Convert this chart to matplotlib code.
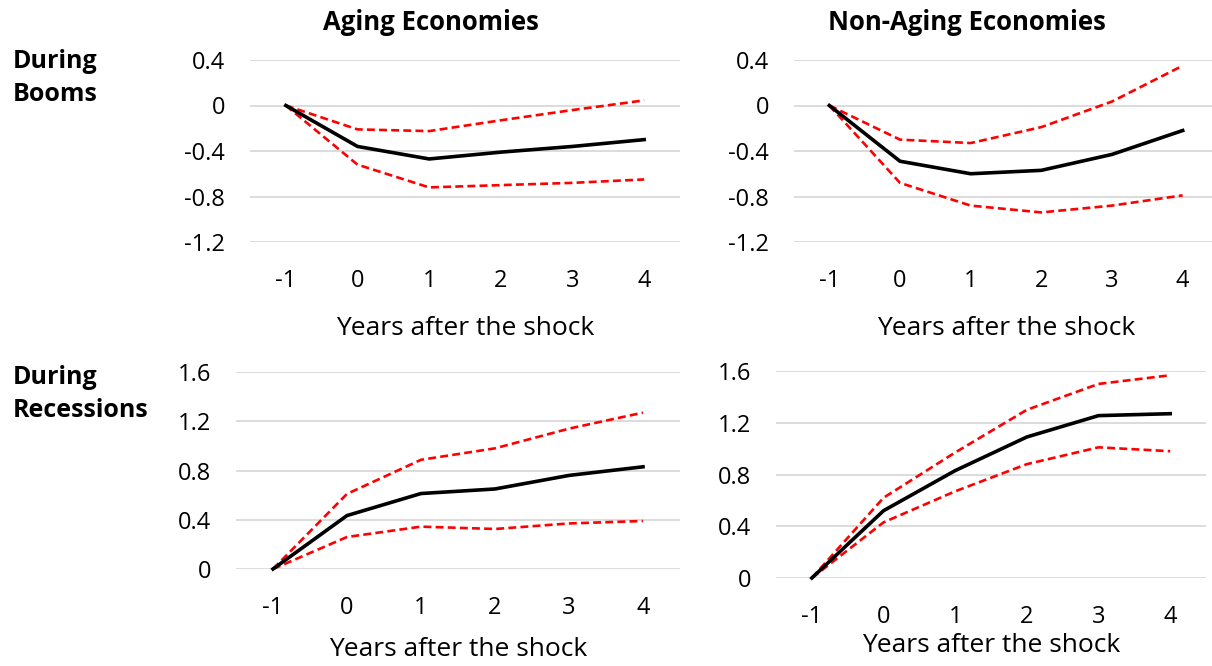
import matplotlib
matplotlib.use("Agg")
import matplotlib.pyplot as plt

plt.rcParams['font.family'] = ['Open Sans', 'DejaVu Sans']
plt.rcParams['axes.unicode_minus'] = False

years = [-1, 0, 1, 2, 3, 4]
year_labels = ['-1', '0', '1', '2', '3', '4']

# booms, aging economies
boom_aging = [0, -0.36, -0.47, -0.41, -0.36, -0.30]
boom_aging_hi = [0, -0.21, -0.225, -0.13, -0.04, 0.045]
boom_aging_lo = [0, -0.52, -0.72, -0.70, -0.68, -0.65]

# booms, non-aging economies
boom_nonaging = [0, -0.49, -0.60, -0.57, -0.43, -0.22]
boom_nonaging_hi = [0, -0.30, -0.33, -0.19, 0.035, 0.35]
boom_nonaging_lo = [0, -0.68, -0.88, -0.94, -0.88, -0.79]

# recessions, aging economies
rec_aging = [0, 0.434, 0.613, 0.65, 0.76, 0.83]
rec_aging_hi = [0, 0.61, 0.887, 0.98, 1.14, 1.27]
rec_aging_lo = [0, 0.26, 0.344, 0.325, 0.37, 0.39]

# recessions, non-aging economies
rec_nonaging = [0, 0.52, 0.83, 1.09, 1.255, 1.27]
rec_nonaging_hi = [0, 0.62, 0.97, 1.30, 1.50, 1.567]
rec_nonaging_lo = [0, 0.43, 0.67, 0.88, 1.01, 0.98]

boom_ticks = [0.4, 0, -0.4, -0.8, -1.2]
rec_ticks = [1.6, 1.2, 0.8, 0.4, 0]

W, H = 1212, 666
fig = plt.figure(figsize=(W / 100, H / 100), dpi=100)


def px_axes(x0, y0, x1, y1):
    return fig.add_axes([x0 / W, 1 - y1 / H, (x1 - x0) / W, (y1 - y0) / H])


def panel(ax, mid, hi, lo, ticks, xlab_pad):
    ax.plot(years, hi, color='#ff0000', lw=1.9, dashes=(3, 1.6), clip_on=False)
    ax.plot(years, lo, color='#ff0000', lw=1.9, dashes=(3, 1.6), clip_on=False)
    ax.plot(years, mid, color='black', lw=2.6, zorder=3, clip_on=False)
    ax.set_xlim(-1.5, 4.5)
    ax.set_ylim(min(ticks), max(ticks))
    ax.set_yticks(ticks)
    ax.set_yticklabels([f'{t:g}' for t in ticks])
    ax.set_xticks(years)
    ax.set_xticklabels(year_labels)
    ax.grid(axis='y', color='#d9d9d9', lw=1.3)
    ax.set_axisbelow(True)
    for s in ax.spines.values():
        s.set_visible(False)
    ax.tick_params(length=0, labelsize=17, pad=19.5)
    ax.tick_params(axis='y', pad=18)
    ax.set_xlabel('Years after the shock', fontsize=19, labelpad=xlab_pad)


ax1 = px_axes(250, 60, 680, 242)
panel(ax1, boom_aging, boom_aging_hi, boom_aging_lo, boom_ticks, 16.5)

ax2 = px_axes(794, 60, 1218, 242)
panel(ax2, boom_nonaging, boom_nonaging_hi, boom_nonaging_lo, boom_ticks, 16.5)

ax3 = px_axes(236, 372, 680, 569)
panel(ax3, rec_aging, rec_aging_hi, rec_aging_lo, rec_ticks, 12)

ax4 = px_axes(776, 371, 1206, 578)
panel(ax4, rec_nonaging, rec_nonaging_hi, rec_nonaging_lo, rec_ticks, 2.5)

fig.text(431 / W, 1 - 22 / H, 'Aging Economies', fontsize=18.5, fontweight='bold',
         ha='center', va='center')
fig.text(967 / W, 1 - 22 / H, 'Non-Aging Economies', fontsize=18.5, fontweight='bold',
         ha='center', va='center')
fig.text(13 / W, 1 - 78 / H, 'During\nBooms', fontsize=18, fontweight='bold',
         ha='left', va='center', linespacing=1.45)
fig.text(13 / W, 1 - 394 / H, 'During\nRecessions', fontsize=18, fontweight='bold',
         ha='left', va='center', linespacing=1.45)

fig.savefig('out.png', dpi=100)
